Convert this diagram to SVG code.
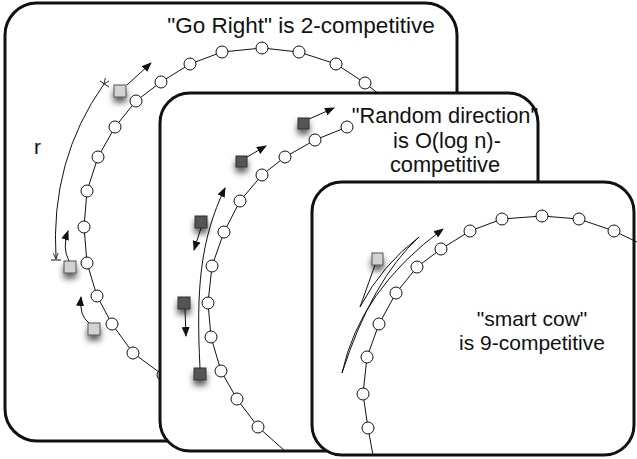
<svg xmlns="http://www.w3.org/2000/svg" width="637" height="459" viewBox="0 0 637 459">
<style>
.panel{fill:#fff;stroke:#111;stroke-width:3}
.ring{fill:none;stroke:#111;stroke-width:1}
.node{fill:#fff;stroke:#111;stroke-width:1}
.sqL{fill:#d2d2d2;stroke:#555;stroke-width:1;filter:url(#sh)}
.sqD{fill:#555;stroke:#333;stroke-width:1;filter:url(#sh)}
.arr{fill:none;stroke:#111;stroke-width:1;marker-end:url(#ah)}
.thin{fill:none;stroke:#111;stroke-width:1}
.lbl{font-family:"Liberation Sans",Arial,sans-serif;fill:#111;text-anchor:middle}
</style>
<defs>
<marker id="ah" viewBox="0 0 10 8" refX="9" refY="4" markerWidth="10" markerHeight="8" markerUnits="userSpaceOnUse" orient="auto">
<path d="M0,0 L10,4 L0,8 Z" fill="#111"/>
</marker>
<marker id="sa" viewBox="0 0 6 6" refX="6" refY="3" markerWidth="6" markerHeight="6" markerUnits="userSpaceOnUse" orient="auto">
<path d="M0,0.5 L6,3 L0,5.5" fill="none" stroke="#111" stroke-width="0.8"/>
</marker>
<filter id="sh" x="-80%" y="-80%" width="260%" height="300%">
<feDropShadow dx="0" dy="5" stdDeviation="3" flood-color="#000" flood-opacity="0.65"/>
</filter>
</defs>

<g id="panel-go-right">
<rect class="panel" x="5" y="3" width="452" height="438" rx="32"/>
<text class="lbl" x="301" y="33" font-size="22.5">"Go Right" is 2-competitive</text>
<polyline class="ring" points="380,95 365,83 336,64 299,52 262,48 222,52 190,64 161,82 136,101 115,127 98,157 87,191 84,227 87,263 97,296 112,324 133,353 163,375 185,395"/>
<g>
<circle class="node" cx="365" cy="83" r="6"/><circle class="node" cx="336" cy="64" r="6"/>
<circle class="node" cx="299" cy="52" r="6"/><circle class="node" cx="262" cy="48" r="6"/>
<circle class="node" cx="222" cy="52" r="6"/><circle class="node" cx="190" cy="64" r="6"/>
<circle class="node" cx="161" cy="82" r="6"/><circle class="node" cx="136" cy="101" r="6"/>
<circle class="node" cx="115" cy="127" r="6"/><circle class="node" cx="98" cy="157" r="6"/>
<circle class="node" cx="87" cy="191" r="6"/><circle class="node" cx="84" cy="227" r="6"/>
<circle class="node" cx="87" cy="263" r="6"/><circle class="node" cx="97" cy="296" r="6"/>
<circle class="node" cx="112" cy="324" r="6"/><circle class="node" cx="133" cy="353" r="6"/>
<circle class="node" cx="163" cy="375" r="6"/>
</g>
<text x="34" y="154" font-size="21" style="font-family:'Liberation Sans',Arial,sans-serif" fill="#111">r</text>
<path class="thin" d="M104,84 Q50,160 56,259" marker-start="url(#sa)" marker-end="url(#sa)"/>
<path class="thin" d="M100,81 L109,87 M51,260 L61,260"/>
<rect class="sqL" x="114" y="85" width="12" height="12"/>
<rect class="sqL" x="64" y="261" width="12" height="12"/>
<rect class="sqL" x="88" y="323" width="12" height="12"/>
<g id="connectors-go-right">
<path class="arr" d="M127,85 L151,63"/>
<path class="arr" d="M69,261 Q62,248 68,231"/>
<path class="arr" d="M89,323 Q79,316 81,297"/>
</g>
</g>

<g id="panel-random">
<rect class="panel" x="160" y="93" width="378" height="358" rx="30"/>
<polyline class="ring" points="347,127 315,140 285,157 262,175 240,201 224,232 212,266 208,303 211,337 221,371 237,399 258,427 285,451"/>
<g>
<circle class="node" cx="347" cy="127" r="6"/><circle class="node" cx="315" cy="140" r="6"/>
<circle class="node" cx="285" cy="157" r="6"/><circle class="node" cx="262" cy="175" r="6"/>
<circle class="node" cx="240" cy="201" r="6"/><circle class="node" cx="224" cy="232" r="6"/>
<circle class="node" cx="212" cy="266" r="6"/><circle class="node" cx="208" cy="303" r="6"/>
<circle class="node" cx="211" cy="337" r="6"/><circle class="node" cx="221" cy="371" r="6"/>
<circle class="node" cx="237" cy="399" r="6"/><circle class="node" cx="258" cy="427" r="6"/>
</g>
<text class="lbl" font-size="21.8"><tspan x="445" y="123">"Random direction"</tspan><tspan x="447" y="148">is O(log n)-</tspan><tspan x="445" y="172">competitive</tspan></text>
<rect class="sqD" x="298" y="118" width="11" height="11"/>
<rect class="sqD" x="236" y="156" width="11" height="11"/>
<rect class="sqD" x="195" y="216" width="12" height="12"/>
<rect class="sqD" x="178" y="297" width="12" height="12"/>
<rect class="sqD" x="194" y="368" width="12" height="12"/>
<g id="connectors-random">
<path class="arr" d="M309,119 L334,108"/>
<path class="arr" d="M247,157 L266,146"/>
<path class="arr" d="M201,228 L194,250"/>
<path class="arr" d="M185,309 L186,336"/>
<path class="arr" d="M200,368 C196,290 200,240 225,188"/>
</g>
</g>

<g id="panel-smart-cow">
<rect class="panel" x="312" y="182" width="322" height="273" rx="30"/>
<polyline class="ring" points="637,242 614,231 579,219 542,216 502,219 470,231 441,249 417,267 396,293 379,324 367,357 363,394 368,428 373,455"/>
<g>
<circle class="node" cx="614" cy="231" r="6"/><circle class="node" cx="579" cy="219" r="6"/>
<circle class="node" cx="542" cy="216" r="6"/><circle class="node" cx="502" cy="219" r="6"/>
<circle class="node" cx="470" cy="231" r="6"/><circle class="node" cx="441" cy="249" r="6"/>
<circle class="node" cx="417" cy="267" r="6"/><circle class="node" cx="396" cy="293" r="6"/>
<circle class="node" cx="379" cy="324" r="6"/><circle class="node" cx="367" cy="357" r="6"/>
<circle class="node" cx="363" cy="394" r="6"/><circle class="node" cx="368" cy="428" r="6"/>
</g>
<text class="lbl" font-size="21"><tspan x="532" y="326">"smart cow"</tspan><tspan x="532" y="350">is 9-competitive</tspan></text>
<rect class="sqL" x="372" y="253" width="11" height="12"/>
<g id="connectors-smart-cow">
<path class="thin" d="M375,265 L360,307 Q382,265 419,237 Q372,280 342,373"/>
<path class="arr" d="M342,373 Q360,290 443,229"/>
</g>
</g>
</svg>
